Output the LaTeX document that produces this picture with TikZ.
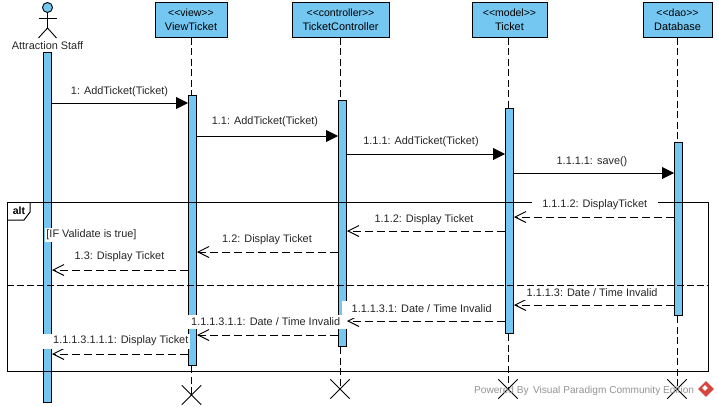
\documentclass[tikz,border=0pt]{standalone}
\usepackage{fontspec}
\setmainfont{Liberation Sans}
\usetikzlibrary{
    arrows.meta,
    positioning,
    shapes.misc,
    shapes.geometric}
\definecolor{barblue}{HTML}{74C7F1}
\definecolor{logored}{HTML}{D8453E}
\newcommand{\stereo}[1]{{\fontsize{10.5}{14.5}\selectfont {<}{<}#1{>}{>}}}
\tikzset{headbox/.style={draw, fill=barblue, minimum height=35pt, align=center, inner sep=0pt, line width=1pt}}
\tikzset{bar/.style={draw, fill=barblue, minimum width=8pt, anchor=north, inner sep=0pt, line width=1pt}}
\tikzset{killx/.style={cross out, draw, minimum size=18.5pt, inner sep=0pt, line width=0.9pt}}
\tikzset{lifeline/.style={dash pattern=on 7pt off 3.5pt, line width=1pt}}
\tikzset{callmsg/.style={-{Triangle[length=12pt, width=12pt]}, line width=1pt}}
\tikzset{retmsg/.style={-{Straight Barb[length=11pt, width=11pt, line width=0.9pt]}, dash pattern=on 8pt off 4pt, line width=1pt}}
\tikzset{msg/.style={inner sep=1pt, yshift=-1.5pt, text=black!85}}
\tikzset{msgw/.style={msg, fill=white, inner sep=0pt, minimum height=14pt}}

\begin{document}
\begin{tikzpicture}[x=1pt, y=-1pt, font=\fontsize{10.9}{14.5}\selectfont]
    \useasboundingbox (0,0) rectangle (718,407);

    % heads
    \node(boxView)[headbox, minimum width=72pt] at (191,19.5){\stereo{view}\\ViewTicket};
    \node(boxCtrl)[headbox, minimum width=97pt] at (340.5,19.5){\stereo{controller}\\TicketController};
    \node(boxModel)[headbox, minimum width=75pt] at (509.5,19.5){\stereo{model}\\Ticket};
    \node(boxDao)[headbox, minimum width=69pt] at (677.5,19.5){\stereo{dao}\\Database};

    % activation bars
    \node(barStaff)[bar, minimum height=350pt] at (47.5,52){};
    \node(barView)[bar, minimum height=270pt] at (192.5,95){};
    \node(barCtrl)[bar, minimum height=246pt] at (342.5,100){};
    \node(barModel)[bar, minimum height=225pt] at (509.5,108){};
    \node(barDao)[bar, minimum height=173pt] at (678.5,142){};

    % destroy marks
    \node(xView)[killx] at (191.5,395){};
    \node(xCtrl)[killx] at (340,389){};
    \node(xModel)[killx] at (508,389){};
    \node(xDao)[killx] at (677,389){};

    % lifelines
    \draw[lifeline] (boxView.south -| xView) -- (barView.north -| xView);
    \draw[lifeline] (boxCtrl.south -| xCtrl) -- (barCtrl.north -| xCtrl);
    \draw[lifeline] (boxModel.south -| xModel) -- (barModel.north -| xModel);
    \draw[lifeline] (boxDao.south -| xDao) -- (barDao.north -| xDao);
    \draw[lifeline] (barView.south -| xView) -- (xView.center);
    \draw[lifeline] (barCtrl.south -| xCtrl) -- (xCtrl.center);
    \draw[lifeline] (barModel.south -| xModel) -- (xModel.center);
    \draw[lifeline] (barDao.south -| xDao) -- (xDao.center);

    % actor
    \node(head)[circle, draw, fill=barblue, minimum size=10pt, inner sep=0pt, line width=0.9pt] at (47.5,7.5){};
    \coordinate(hip) at (47.5,28);
    \draw[line width=0.9pt] (head.south) -- (hip);
    \draw[line width=0.9pt] (38.5,18) -- (56.5,18);
    \draw[line width=0.9pt] (38.5,38) -- (hip) -- (56.5,38);
    \node(staff)[msg] at (47.5,44.5){Attraction Staff};

    % alt frame
    \node(frame)[draw, line width=1pt, minimum width=700.5pt, minimum height=169pt, inner sep=0pt] at (357.75,286.5){};
    \coordinate(sepL) at (frame.west |- 0,285);
    \coordinate(sepR) at (frame.east |- 0,285);
    \draw[dash pattern=on 7pt off 3pt, line width=1pt] (sepL) -- (sepR);
    \draw[line width=1pt] (30,202) -- (30,212) -- (24,220) -- (7.5,220);
    \node(alt)[font=\fontsize{10.5}{12}\selectfont\bfseries, inner sep=0pt] at (19,210.5){alt};

    % calls
    \draw[callmsg] ([yshift=-51pt]barStaff.north east) -- ([yshift=-8pt]barView.north west);
    \draw[callmsg] ([yshift=-41pt]barView.north east) -- ([yshift=-36pt]barCtrl.north west);
    \draw[callmsg] ([yshift=-54pt]barCtrl.north east) -- ([yshift=-46pt]barModel.north west);
    \draw[callmsg] ([yshift=-65pt]barModel.north east) -- ([yshift=-31pt]barDao.north west);

    % returns
    \draw[retmsg] ([yshift=-75pt]barDao.north west) -- ([yshift=-109pt]barModel.north east);
    \draw[retmsg] ([yshift=-123pt]barModel.north west) -- ([yshift=-131pt]barCtrl.north east);
    \draw[retmsg] ([yshift=-152pt]barCtrl.north west) -- ([yshift=-157pt]barView.north east);
    \draw[retmsg] ([yshift=-175pt]barView.north west) -- ([yshift=-218pt]barStaff.north east);
    \draw[retmsg] ([yshift=-163pt]barDao.north west) -- ([yshift=-197pt]barModel.north east);
    \draw[retmsg] ([yshift=-213pt]barModel.north west) -- ([yshift=-221pt]barCtrl.north east);
    \draw[retmsg] ([yshift=-235pt]barCtrl.north west) -- ([yshift=-240pt]barView.north east);
    \draw[retmsg] ([yshift=-259pt]barView.north west) -- ([yshift=-302pt]barStaff.north east);

    % labels
    \node(m1)[msg] at (119.5,90){1: AddTicket(Ticket)};
    \node(m2)[msg] at (265,120){1.1: AddTicket(Ticket)};
    \node(m3)[msg] at (421,140){1.1.1: AddTicket(Ticket)};
    \node(m4)[msg] at (592,160){1.1.1.1: save()};
    \node(m5)[msgw, minimum width=126pt] at (594.7,203){1.1.1.2: DisplayTicket};
    \node(m6)[msg] at (424,218){1.1.2: Display Ticket};
    \node(m7)[msg] at (267,238){1.2: Display Ticket};
    \node(m8)[msg] at (119.5,255){1.3: Display Ticket};
    \node(guard)[msgw, inner xsep=1pt] at (91.5,233){[IF Validate is true]};
    \node(m9)[msgw, anchor=west] at (517,291){\hspace*{9.5pt}1.1.1.3: Date / Time Invalid\hspace*{12pt}};
    \node(m10)[msgw, anchor=west, minimum height=17pt] at (342,307.5){\hspace*{9.5pt}1.1.1.3.1: Date / Time Invalid\hspace*{4pt}};
    \node(m11)[msgw, anchor=west] at (188,320){\hspace*{3pt}1.1.1.3.1.1: Date / Time Invalid\hspace*{7pt}};
    \node(m12)[msgw, anchor=west, minimum height=15pt] at (37,339.5){\hspace*{16pt}1.1.1.3.1.1.1: Display Ticket\hspace*{2pt}};

    % watermark
    \node(mark)[font=\fontsize{10.1}{12}\selectfont, text=gray!85, inner sep=0pt, anchor=west] at (474,390.5){Powered By\, Visual Paradigm Community Edition};
    \node(logo)[diamond, fill=logored, minimum size=16pt, inner sep=0pt] at (706,389){};
    \node(logoin)[diamond, fill=white, minimum size=6pt, inner sep=0pt] at (705,388){};

\end{tikzpicture}
\end{document}
